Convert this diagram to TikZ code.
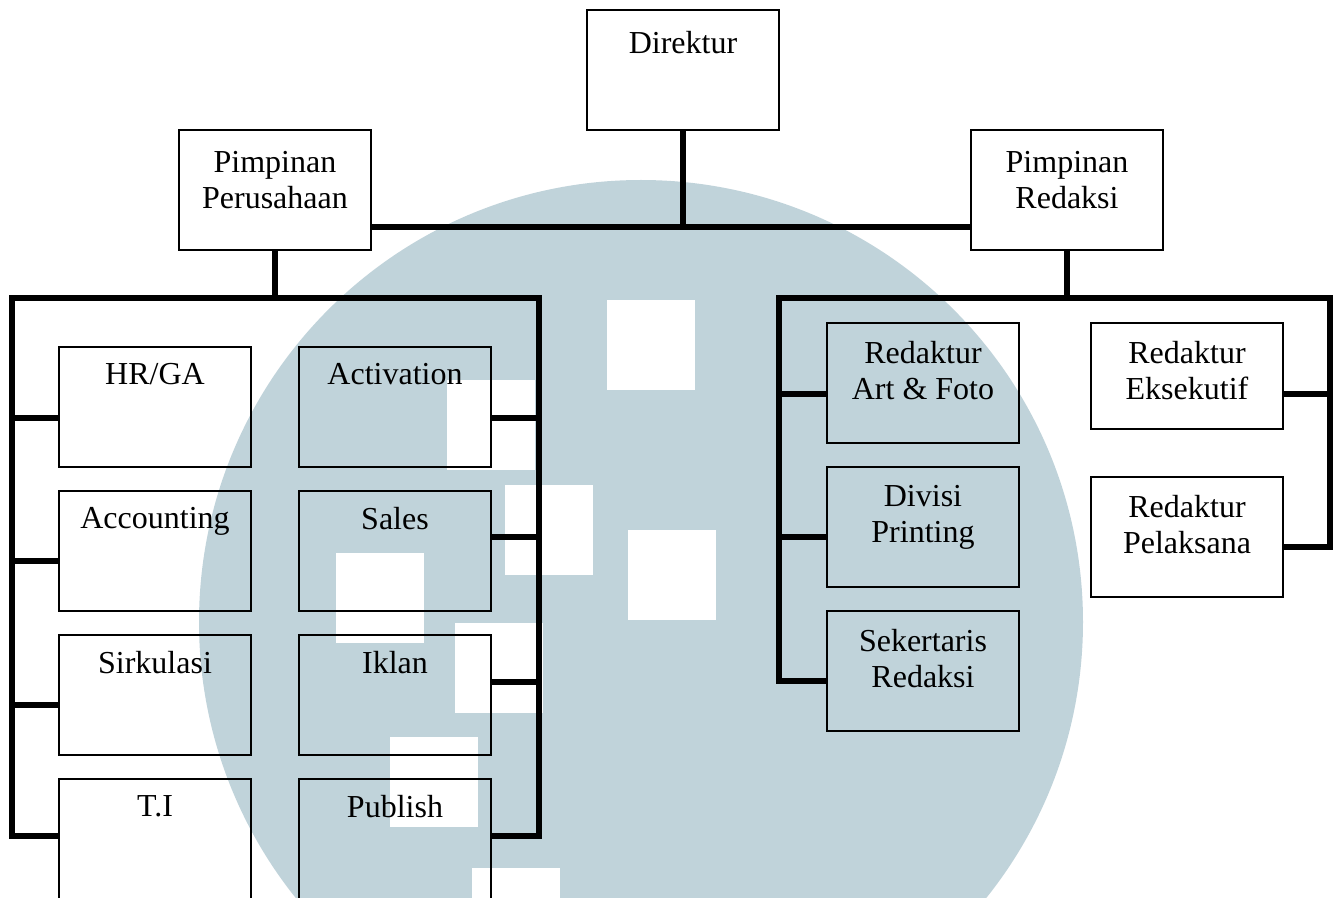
\documentclass[tikz,border=0pt]{standalone}
\usepackage{fontspec}
\setmainfont{Liberation Serif}
\definecolor{wm}{RGB}{192,211,218}
\begin{document}
\begin{tikzpicture}[x=0.5pt, y=-0.5pt,
    unit/.style={draw, line width=1pt, minimum width=96pt, minimum height=60pt, inner sep=0pt},
    lbl/.style={anchor=north, inner sep=0pt, align=center, font=\fontsize{16}{18}\selectfont, yshift=#1},
    lbl/.default=-9.5pt,
    link/.style={line width=2.6pt}]
\useasboundingbox (0,0) rectangle (1340,898);
% watermark behind the chart
\begin{scope}
  \clip (0,0) rectangle (1340,898);
  \fill[wm] (641,622) circle (442);
  \foreach \a/\b in {607/300, 447/380, 505/485, 628/530, 336/553, 455/623, 390/737, 472/868}
    \fill[white] (\a,\b) rectangle ++(88,90);
\end{scope}
% top level
\node[unit, label={[lbl=-11pt]north:Direktur}] (dir) at (683,70) {};
\node[unit, label={[lbl=-11pt]north:Pimpinan\\Perusahaan}] (pp) at (275,190) {};
\node[unit, label={[lbl=-11pt]north:Pimpinan\\Redaksi}] (pr) at (1067,190) {};
% perusahaan
\node[unit, label={[lbl=-8.5pt]north:HR/GA}] (hrga) at (155,407) {};
\node[unit, label={[lbl=-8.5pt]north:Accounting}] (acc) at (155,551) {};
\node[unit, label={[lbl=-8.5pt]north:Sirkulasi}] (sirk) at (155,695) {};
\node[unit, label={[lbl=-8.5pt]north:T.I}] (ti) at (155,839) {};
\node[unit, label={[lbl=-8.5pt]north:Activation}] (act) at (395,407) {};
\node[unit, label={[lbl=-8.5pt]north:Sales}] (sal) at (395,551) {};
\node[unit, label={[lbl=-8.5pt]north:Iklan}] (ikl) at (395,695) {};
\node[unit, label={[lbl=-8.5pt]north:Publish}] (pub) at (395,839) {};
% redaksi
\node[unit, label={[lbl]north:Redaktur\\Art \& Foto}] (art) at (923,383) {};
\node[unit, label={[lbl]north:Divisi\\Printing}] (div) at (923,527) {};
\node[unit, label={[lbl]north:Sekertaris\\Redaksi}] (sek) at (923,671) {};
\node[unit, minimum height=53pt, label={[lbl]north:Redaktur\\Eksekutif}] (eks) at (1187,376) {};
\node[unit, label={[lbl]north:Redaktur\\Pelaksana}] (pel) at (1187,537) {};
% links
\coordinate (tbus) at (683,227);
\draw[link] (dir) -- (tbus);
\draw[link] (pp.east |- tbus) -- (pr.west |- tbus);
\coordinate (lbusl) at (12,298);
\coordinate (lbusr) at (539,298);
\draw[link] (pp) -- (pp |- lbusl);
\draw[link] ([yshift=-29pt]ti.north west) -| (lbusl) -- (lbusr) |- ([yshift=-29pt]pub.north east);
\foreach \n/\s in {hrga/-36pt, acc/-35.5pt, sirk/-35.5pt}
  \draw[link] ([yshift=\s]\n.north west) -| (lbusl);
\foreach \n/\s in {act/-36pt, sal/-23.5pt, ikl/-24pt}
  \draw[link] ([yshift=\s]\n.north east) -| (lbusr);
\coordinate (rbusl) at (779,298);
\coordinate (rbusr) at (1330,298);
\draw[link] (pr) -- (pr |- rbusl);
\draw[link] ([yshift=-35.5pt]sek.north west) -| (rbusl) -- (rbusr) |- ([yshift=-35.5pt]pel.north east);
\foreach \n/\s in {art/-36pt, div/-35.5pt}
  \draw[link] ([yshift=\s]\n.north west) -| (rbusl);
\draw[link] ([yshift=-36pt]eks.north east) -| (rbusr);
\end{tikzpicture}
\end{document}
